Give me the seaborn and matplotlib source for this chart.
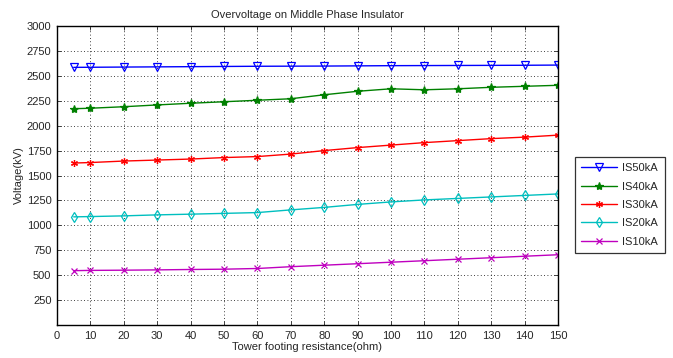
import numpy as np
import pandas as pd
import matplotlib
matplotlib.use("Agg")
import matplotlib.pyplot as plt
import seaborn as sns

sns.set_style("ticks")
plt.rcParams['font.family'] = ['Liberation Sans', 'DejaVu Sans']

resistance = [5, 10, 20, 30, 40, 50, 60, 70, 80, 90, 100, 110, 120, 130, 140, 150]
is50 = [2585, 2586, 2588, 2590, 2592, 2594, 2596, 2597, 2598, 2600, 2602, 2603, 2604, 2605, 2606, 2608]
is40 = [2170, 2175, 2190, 2208, 2225, 2240, 2255, 2270, 2310, 2345, 2370, 2360, 2370, 2385, 2395, 2405]
is30 = [1625, 1630, 1645, 1655, 1665, 1680, 1690, 1715, 1750, 1780, 1805, 1830, 1850, 1870, 1885, 1905]
is20 = [1085, 1088, 1095, 1105, 1112, 1120, 1128, 1155, 1180, 1210, 1235, 1255, 1270, 1285, 1300, 1315]
is10 = [545, 548, 550, 553, 557, 560, 567, 585, 600, 615, 630, 645, 660, 675, 690, 705]

series = ["IS50kA", "IS40kA", "IS30kA", "IS20kA", "IS10kA"]
values = [is50, is40, is30, is20, is10]
colors = ["#0000ff", "#008000", "#ff0000", "#00bfbf", "#bf00bf"]
markers = ["v", "*", (6, 2, 0), "d", "x"]
filled = [False, True, True, False, True]
msizes = [5.5, 6, 5, 5.5, 4]

fig = plt.figure(figsize=(6.73, 3.58), dpi=100)
ax = fig.add_axes([57 / 673, 33 / 358, 501 / 673, 299 / 358])

for name, vals, c, m, f, ms in zip(series, values, colors, markers, filled, msizes):
    df = pd.DataFrame({"r": resistance, "v": vals})
    sns.lineplot(data=df, x="r", y="v", ax=ax, color=c, marker=m, markersize=ms,
                 markerfacecolor=c if f else "none", markeredgecolor=c,
                 markeredgewidth=0.9, linewidth=1.0, label=name)

ax.set_xlim(0, 150)
ax.set_ylim(0, 3000)
ax.set_xticks(range(0, 151, 10))
ax.set_yticks(range(250, 3001, 250))
ax.tick_params(labelsize=8, direction="in", length=3, width=0.6,
               top=True, right=True, pad=4)
ax.grid(True, linestyle=(0, (1, 3)), color="black", linewidth=0.6)
for s in ax.spines.values():
    s.set_visible(True)
    s.set_linewidth(1.0)
    s.set_color("black")
ax.set_xlabel("Tower footing resistance(ohm)", fontsize=8, labelpad=1)
ax.set_ylabel("Voltage(kV)", fontsize=8, labelpad=2)
ax.set_title("Overvoltage on Middle Phase Insulator", fontsize=8, pad=6)

leg = ax.legend(loc="upper left", bbox_to_anchor=(569 / 673, 1 - 151 / 358),
                bbox_transform=fig.transFigure, fontsize=8, frameon=True,
                fancybox=False, edgecolor="black", handlelength=3.2,
                borderpad=0.6, labelspacing=0.75, handletextpad=0.5)
leg.get_frame().set_linewidth(0.9)

fig.savefig("out.png", dpi=100)
